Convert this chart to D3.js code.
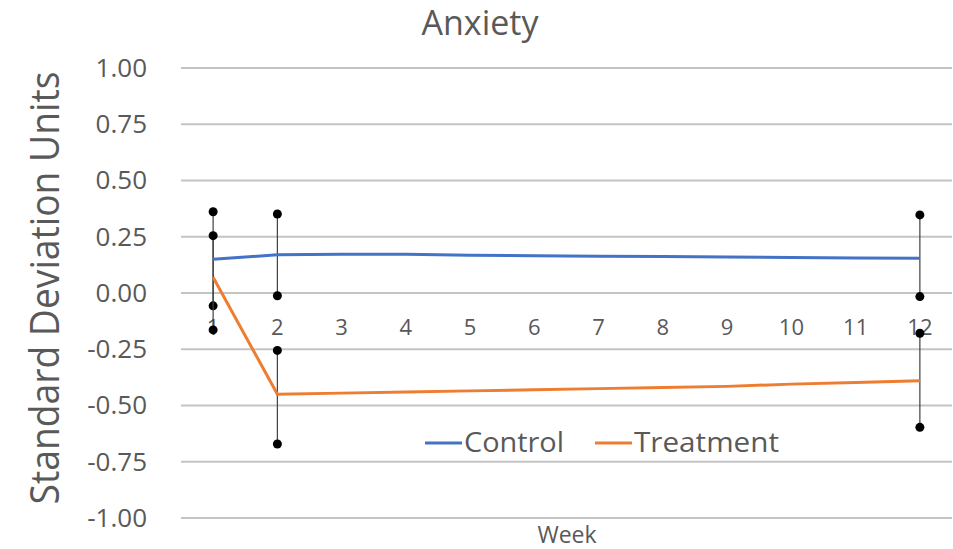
<!DOCTYPE html>
<html lang="en">
<head>
<meta charset="utf-8">
<script src="https://d3js.org/d3.v7.min.js"></script>
<style>
  body { margin: 0; background: #fff; }
  text { font-family: "Open Sans", sans-serif; fill: #595959; }
</style>
</head>
<body>
<script>
// values
const weeks = ["1","2","3","4","5","6","7","8","9","10","11","12"];
const control = [0.15, 0.17, 0.172, 0.172, 0.168, 0.166, 0.163, 0.162, 0.160, 0.158, 0.156, 0.155];
const treatment = [0.07, -0.45, -0.445, -0.44, -0.435, -0.43, -0.425, -0.42, -0.415, -0.405, -0.398, -0.39];

// error bars only at weeks 1, 2, 12
const errWeeks = ["1", "2", "12"];
const controlLow  = [-0.057, -0.012, -0.016];
const controlHigh = [0.361, 0.351, 0.347];
const treatLow    = [-0.164, -0.671, -0.597];
const treatHigh   = [0.255, -0.255, -0.179];

const yTicks = [1, 0.75, 0.5, 0.25, 0, -0.25, -0.5, -0.75, -1];

const W = 953, H = 549;

const svg = d3.select("body").append("svg")
    .attr("width", W)
    .attr("height", H);

const x = d3.scaleBand().domain(weeks).range([181, 952]);
const y = d3.scaleLinear().domain([-1, 1]).range([518, 68]);
const xc = d => x(d) + x.bandwidth() / 2;

// gridlines
svg.append("g")
    .selectAll("line")
    .data(yTicks)
    .join("line")
    .attr("x1", 181).attr("x2", 952)
    .attr("y1", d => y(d)).attr("y2", d => y(d))
    .attr("stroke", "#c4c4c4")
    .attr("stroke-width", 2);

// y axis labels (plain hyphen like the original)
const yAxis = svg.append("g")
    .attr("transform", "translate(181,0)")
    .call(d3.axisLeft(y).tickValues(yTicks).tickFormat(d => d.toFixed(2)).tickSize(0).tickPadding(34));
yAxis.select(".domain").remove();
yAxis.selectAll("text").style("font-size", "26px").attr("fill", "#595959");

// x axis labels sit at zero line
const xAxis = svg.append("g")
    .attr("transform", "translate(0," + y(0) + ")")
    .call(d3.axisBottom(x).tickSize(0).tickPadding(26));
xAxis.select(".domain").remove();
xAxis.selectAll("text").style("font-size", "22px").attr("fill", "#595959");

// error bars
function errorBars(lows, highs) {
    const g = svg.append("g");
    const rows = errWeeks.map((w, i) => ({ w: w, lo: lows[i], hi: highs[i] }));
    g.selectAll("line")
        .data(rows)
        .join("line")
        .attr("x1", d => xc(d.w)).attr("x2", d => xc(d.w))
        .attr("y1", d => y(d.lo)).attr("y2", d => y(d.hi))
        .attr("stroke", "#404040")
        .attr("stroke-width", 1.2);
    const ends = rows.flatMap(d => [{ w: d.w, v: d.lo }, { w: d.w, v: d.hi }]);
    g.selectAll("circle")
        .data(ends)
        .join("circle")
        .attr("cx", d => xc(d.w))
        .attr("cy", d => y(d.v))
        .attr("r", 4.5)
        .attr("fill", "#000");
}
errorBars(controlLow, controlHigh);
errorBars(treatLow, treatHigh);

// series lines
const line = d3.line()
    .x((d, i) => xc(weeks[i]))
    .y(d => y(d));

svg.append("path")
    .datum(control)
    .attr("fill", "none")
    .attr("stroke", "#4472C4")
    .attr("stroke-width", 3)
    .attr("d", line);

svg.append("path")
    .datum(treatment)
    .attr("fill", "none")
    .attr("stroke", "#ED7D31")
    .attr("stroke-width", 3)
    .attr("d", line);

// legend
const legend = [
    { name: "Control", color: "#4472C4", x: 425, w: 100 },
    { name: "Treatment", color: "#ED7D31", x: 595, w: 145 }
];
const lg = svg.append("g").selectAll("g").data(legend).join("g");
lg.append("line")
    .attr("x1", d => d.x).attr("x2", d => d.x + 37)
    .attr("y1", 443).attr("y2", 443)
    .attr("stroke", d => d.color)
    .attr("stroke-width", 3);
lg.append("text")
    .attr("x", d => d.x + 39)
    .attr("y", 443)
    .attr("dy", "0.35em")
    .attr("textLength", d => d.w)
    .attr("lengthAdjust", "spacingAndGlyphs")
    .style("font-size", "27px")
    .text(d => d.name);

// title
svg.append("text")
    .attr("x", 480)
    .attr("y", 35)
    .attr("text-anchor", "middle")
    .style("font-size", "34px")
    .text("Anxiety");

// axis titles
svg.append("text")
    .attr("transform", "translate(59,288) rotate(-90)")
    .attr("text-anchor", "middle")
    .attr("textLength", 433)
    .attr("lengthAdjust", "spacingAndGlyphs")
    .style("font-size", "40px")
    .text("Standard Deviation Units");

svg.append("text")
    .attr("x", 567)
    .attr("y", 543)
    .attr("text-anchor", "middle")
    .style("font-size", "23px")
    .text("Week");
</script>
</body>
</html>
